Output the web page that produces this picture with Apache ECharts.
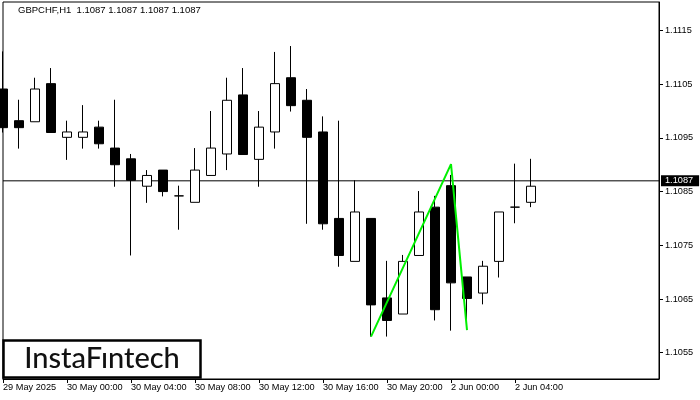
<!DOCTYPE html>
<html>
<head>
<meta charset="utf-8">
<script src="https://cdn.jsdelivr.net/npm/echarts@6/dist/echarts.min.js"></script>
<style>html,body{margin:0;padding:0;background:#fff}#c{width:700px;height:400px}</style>
</head>
<body>
<div id="c"></div>
<script>
const titleText = 'GBPCHF,H1  1.1087 1.1087 1.1087 1.1087';
const categories = [
  '29 May 20:00','29 May 21:00','29 May 22:00','29 May 23:00',
  '30 May 00:00','30 May 01:00','30 May 02:00','30 May 03:00','30 May 04:00','30 May 05:00',
  '30 May 06:00','30 May 07:00','30 May 08:00','30 May 09:00','30 May 10:00','30 May 11:00',
  '30 May 12:00','30 May 13:00','30 May 14:00','30 May 15:00','30 May 16:00','30 May 17:00',
  '30 May 18:00','30 May 19:00','30 May 20:00','30 May 21:00','30 May 22:00','30 May 23:00',
  '2 Jun 00:00','2 Jun 01:00','2 Jun 02:00','2 Jun 03:00','2 Jun 04:00','2 Jun 05:00',
  '2 Jun 06:00','2 Jun 07:00','2 Jun 08:00','2 Jun 09:00','2 Jun 10:00','2 Jun 11:00',
  '2 Jun 12:00','2 Jun 13:00'
];
const openV  = [1.11041,1.10982,1.10980,1.11051,1.10951,1.10951,1.10970,1.10931,1.10911,1.10860,1.10890,1.10842,1.10830,1.10880,1.10920,1.11030,1.10910,1.10961,1.11062,1.11020,1.10961,1.10800,1.10720,1.10800,1.10652,1.10622,1.10731,1.10821,1.10861,1.10691,1.10661,1.10720,1.10821,1.10830];
const highV  = [1.11111,1.11021,1.11062,1.11080,1.10982,1.11011,1.10982,1.11021,1.10920,1.10890,1.10890,1.10861,1.10931,1.11000,1.11062,1.11080,1.11000,1.11110,1.11121,1.11041,1.10990,1.10982,1.10871,1.10800,1.10721,1.10732,1.10851,1.10842,1.10881,1.10691,1.10721,1.10812,1.10902,1.10911];
const lowV   = [1.10960,1.10930,1.10980,1.10960,1.10909,1.10930,1.10930,1.10859,1.10731,1.10829,1.10841,1.10779,1.10830,1.10880,1.10890,1.10919,1.10859,1.10930,1.10999,1.10790,1.10779,1.10710,1.10720,1.10580,1.10580,1.10622,1.10731,1.10610,1.10591,1.10611,1.10640,1.10690,1.10791,1.10821];
const closeV = [1.10969,1.10969,1.11041,1.10960,1.10961,1.10961,1.10939,1.10900,1.10871,1.10880,1.10850,1.10842,1.10890,1.10931,1.11020,1.10919,1.10970,1.11051,1.11010,1.10951,1.10790,1.10731,1.10812,1.10639,1.10610,1.10720,1.10812,1.10630,1.10680,1.10651,1.10711,1.10812,1.10821,1.10860];
const patternIdx = [23, 28, 29];
const patternVal = [1.10580, 1.10901, 1.10592];
const bidPrice = 1.1087;
const yTickValues = [1.1055, 1.1065, 1.1075, 1.1085, 1.1095, 1.1105, 1.1115];
const xTickIndex = [0, 4, 8, 12, 16, 20, 24, 28, 32];
const xTickLabels = ['29 May 2025','30 May 00:00','30 May 04:00','30 May 08:00','30 May 12:00','30 May 16:00','30 May 20:00','2 Jun 00:00','2 Jun 04:00'];
const logoText = 'InstaF\u0131ntech';

const yMin = 1.10501, yMax = 1.11203;
const font = 'Liberation Sans';
const candleData = openV.map((o, i) => [o, closeV[i], lowV[i], highV[i]]);
const patternData = patternIdx.map((k, i) => [k, patternVal[i]]);
const bidData = [[0, bidPrice], [categories.length - 1, bidPrice]];
const isTick = (index) => xTickIndex.indexOf(index) >= 0;

const chart = echarts.init(document.getElementById('c'), null, {renderer: 'canvas'});
chart.setOption({
  animation: false,
  backgroundColor: '#fff',
  title: {
    text: titleText, left: 18, top: 5, padding: 0,
    textStyle: {fontFamily: font, fontSize: 9.5, fontWeight: 'normal', color: '#000'}
  },
  grid: {left: 3, right: 41, top: 2, bottom: 21, outerBoundsMode: 'none', containLabel: false,
    show: true, borderColor: '#000', borderWidth: 1, backgroundColor: '#fff'},
  xAxis: {
    type: 'category', data: categories, boundaryGap: false,
    axisLine: {show: true, lineStyle: {color: '#000', width: 1}},
    axisTick: {show: true, interval: (i) => isTick(i), length: 4, lineStyle: {color: '#000'}},
    axisLabel: {
      interval: (i) => isTick(i), align: 'left', margin: 4,
      fontFamily: font, fontSize: 9.2, color: '#000',
      formatter: (v, i) => { const k = xTickIndex.indexOf(i); return k >= 0 ? xTickLabels[k] : ''; }
    },
    splitLine: {show: false}
  },
  yAxis: [{
    type: 'value', position: 'right', min: yMin, max: yMax, scale: true,
    axisLine: {show: true, lineStyle: {color: '#000', width: 1}},
    axisTick: {show: true, customValues: yTickValues, length: 4, lineStyle: {color: '#000'}},
    axisLabel: {customValues: yTickValues, margin: 6, fontFamily: font, fontSize: 9.2, color: '#000',
      formatter: (v) => v.toFixed(4)},
    splitLine: {show: false}
  }, {
    type: 'value', position: 'right', min: yMin, max: yMax, scale: true,
    axisLine: {show: false}, axisTick: {show: false}, splitLine: {show: false},
    axisLabel: {customValues: [bidPrice], margin: 2, fontFamily: font, fontSize: 9.2, color: '#fff',
      backgroundColor: '#000', padding: [1, 6, 1, 4], formatter: (v) => v.toFixed(4)}
  }],
  series: [{
    type: 'line', data: bidData, z: 1, symbol: 'none', silent: true,
    lineStyle: {color: '#000', width: 1}
  }, {
    type: 'candlestick', data: candleData, barWidth: 10, z: 2,
    itemStyle: {color: '#fff', color0: '#000', borderColor: '#000', borderColor0: '#000', borderColorDoji: '#000', borderWidth: 1}
  }, {
    type: 'line', data: patternData, z: 4, symbol: 'none', silent: true,
    lineStyle: {color: '#00f000', width: 2}
  }],
  graphic: [{
    type: 'group', z: 100,
    children: [{
      type: 'rect', shape: {x: 3.5, y: 340.5, width: 197, height: 37},
      style: {fill: '#fff', stroke: '#000', lineWidth: 2.5}
    }, {
      type: 'text', x: 102, y: 359,
      style: {text: logoText, fill: '#111', font: '500 29px Lato', textAlign: 'center', textVerticalAlign: 'middle'}
    }]
  }]
});
</script>
</body>
</html>
